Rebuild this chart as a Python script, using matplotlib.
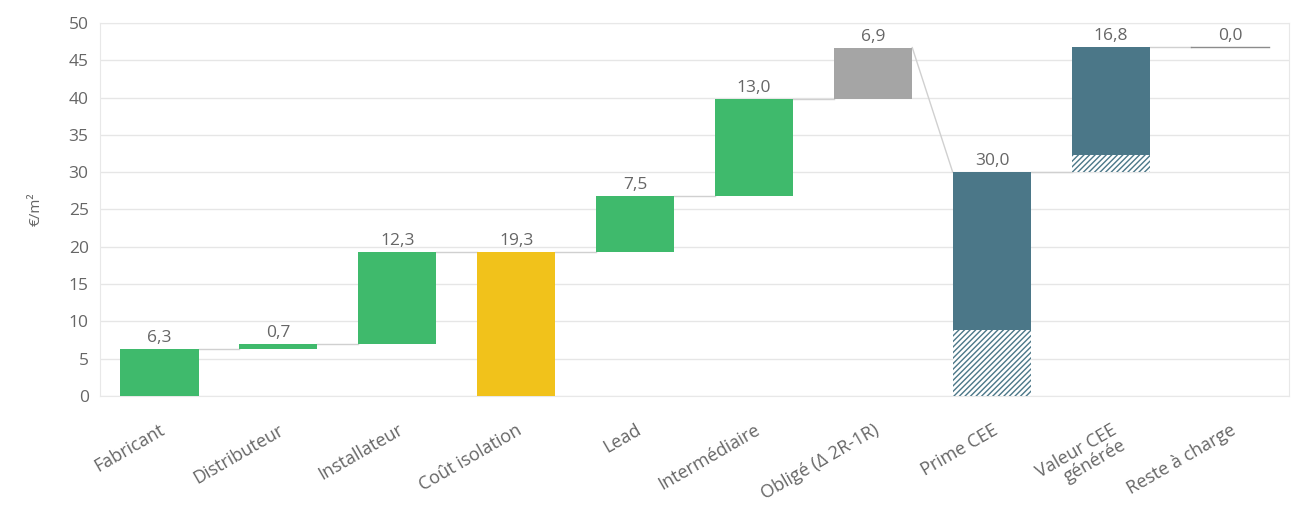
import matplotlib.pyplot as plt
import numpy as np

plt.rcParams['font.family'] = ['Open Sans', 'DejaVu Sans']

categories = ["Fabricant", "Distributeur", "Installateur", "Coût isolation", "Lead",
              "Intermédiaire", "Obligé (Δ 2R-1R)", "Prime CEE", "Valeur CEE\ngénérée",
              "Reste à charge"]
values = [6.3, 0.7, 12.3, 19.3, 7.5, 13.0, 6.9, 30.0, 16.8, 0.0]
bottoms = [0.0, 6.3, 7.0, 0.0, 19.3, 26.8, 39.8, 0.0, 30.0, 46.8]
hatched_part = [0, 0, 0, 0, 0, 0, 0, 8.8, 2.3, 0]
bar_colors = ["#3fba6c", "#3fba6c", "#3fba6c", "#f1c21b", "#3fba6c",
              "#3fba6c", "#a5a5a5", "#4b7788", "#4b7788", "#4b7788"]

txt = "#666666"
w = 0.66

fig = plt.figure(figsize=(13.13, 5.23), dpi=100)
ax = fig.add_axes([0.076, 0.243, 0.906, 0.713])

x = np.arange(len(categories))
for i in x:
    b, v, h = bottoms[i], values[i], hatched_part[i]
    if h > 0:
        ax.bar(i, h, w, bottom=b, facecolor="white", edgecolor=bar_colors[i],
               hatch="//////", linewidth=0, zorder=3)
    if v > 0:
        ax.bar(i, v - h, w, bottom=b + h, color=bar_colors[i], linewidth=0, zorder=3)
    else:
        ax.plot([i - w / 2, i + w / 2], [b, b], color="#8c8c8c", lw=1, zorder=3)
    ax.text(i, b + v + 0.4, f"{v:.1f}".replace(".", ","), ha="center", va="bottom",
            fontsize=12.5, color=txt)

# lignes de liaison entre barres
for i in range(len(categories) - 1):
    end_level = bottoms[i] + values[i]
    nxt = i + 1
    entry = bottoms[nxt] if bottoms[nxt] > 0 else bottoms[nxt] + values[nxt]
    ax.plot([i + w / 2, nxt - w / 2], [end_level, entry], color="#d0d0d0", lw=1, zorder=2)

ax.set_xlim(-0.5, len(categories) - 0.5)
ax.set_ylim(0, 50)
ax.set_yticks(np.arange(0, 51, 5))
ax.yaxis.grid(True, color="#e6e6e6", lw=1)
ax.set_axisbelow(True)
ax.set_xticks(x)
ax.set_xticklabels(categories, rotation=30, ha="right", rotation_mode="anchor",
                   fontsize=13, color=txt, linespacing=1.0)
ax.tick_params(axis="y", labelsize=12.5, colors=txt, length=0, pad=8)
ax.tick_params(axis="x", length=0, pad=18)
for s in ax.spines.values():
    s.set_color("#e8e8e8")
ax.set_ylabel("€/m²", fontsize=11, color=txt, labelpad=18)

fig.savefig("out.png", dpi=100)
